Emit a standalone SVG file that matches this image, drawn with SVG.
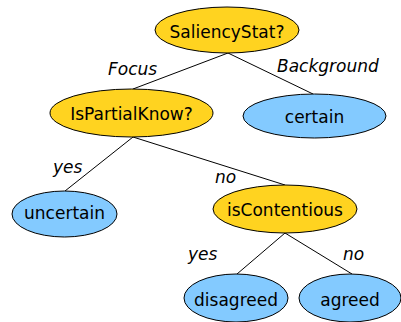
<svg xmlns="http://www.w3.org/2000/svg" width="401" height="322" viewBox="0 0 401 322">
  <style>
    .q { fill: #ffd320; stroke: #000; stroke-width: 1; }
    .leaf { fill: #83caff; stroke: #000; stroke-width: 1; }
    .t { font-family: "DejaVu Sans", sans-serif; font-size: 17px; text-anchor: middle; fill: #000; }
    .lbl { font-family: "DejaVu Sans", sans-serif; font-size: 17px; font-style: italic; fill: #000; }
    .edge { stroke: #000; stroke-width: 1; fill: none; }
  </style>
  <rect width="401" height="322" fill="#fff"/>
  <g id="connectors">
    <line class="edge" x1="228" y1="53" x2="133" y2="89"/>
    <line class="edge" x1="228" y1="53" x2="313" y2="94"/>
    <line class="edge" x1="133" y1="137" x2="65" y2="191"/>
    <line class="edge" x1="133" y1="137" x2="285" y2="185"/>
    <line class="edge" x1="285" y1="233" x2="237" y2="274"/>
    <line class="edge" x1="285" y1="233" x2="352" y2="274"/>
    <text class="lbl" x="108" y="75">Focus</text>
    <text class="lbl" x="277" y="72">Background</text>
    <text class="lbl" x="53" y="173">yes</text>
    <text class="lbl" x="215" y="183">no</text>
    <text class="lbl" x="188" y="260">yes</text>
    <text class="lbl" x="343" y="260">no</text>
  </g>
  <g id="saliencyStat">
    <ellipse class="q" cx="227" cy="30" rx="72" ry="23"/>
    <text class="t" x="227" y="38">SaliencyStat?</text>
  </g>
  <g id="certain">
    <ellipse class="leaf" cx="314.5" cy="116" rx="71.5" ry="22"/>
    <text class="t" x="314.5" y="123">certain</text>
  </g>
  <g id="isPartialKnow">
    <ellipse class="q" cx="131.5" cy="113" rx="81.5" ry="24"/>
    <text class="t" x="131.5" y="120">IsPartialKnow?</text>
  </g>
  <g id="uncertain">
    <ellipse class="leaf" cx="64.5" cy="214" rx="52.5" ry="23"/>
    <text class="t" x="64.5" y="219">uncertain</text>
  </g>
  <g id="isContentious">
    <ellipse class="q" cx="285" cy="209" rx="72" ry="24"/>
    <text class="t" x="285" y="216">isContentious</text>
  </g>
  <g id="disagreed">
    <ellipse class="leaf" cx="236" cy="298" rx="52" ry="24"/>
    <text class="t" x="236" y="306">disagreed</text>
  </g>
  <g id="agreed">
    <ellipse class="leaf" cx="350" cy="298" rx="51" ry="24"/>
    <text class="t" x="350" y="306">agreed</text>
  </g>
</svg>
